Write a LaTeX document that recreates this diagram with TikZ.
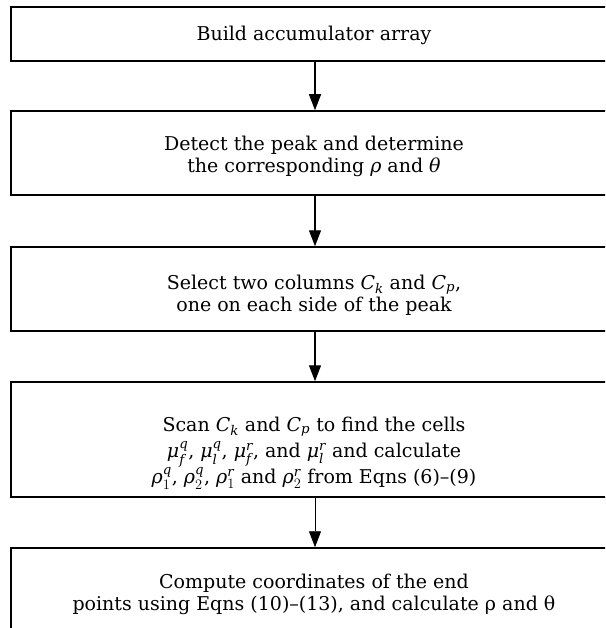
\documentclass[tikz,border=0pt]{standalone}
\usepackage{amsmath}
\usepackage{fontspec}
\setmainfont{DejaVu Serif}
\usetikzlibrary{arrows.meta}
% italic symbols taken from the text font, so that they scale inside sub/superscripts
\newcommand{\vi}[1]{\textit{#1}}

\begin{document}
\begin{tikzpicture}[x=1pt,y=-1pt,
  stepbox/.style={draw=black, line width=1.5pt, rectangle, minimum width=608pt, inner sep=0pt},
  steptext/.style={align=center, font=\fontsize{19}{22}\selectfont, inner sep=0pt},
  flow/.style={line width=1.3pt, -{Triangle[width=12pt,length=16pt]}},
  thinflow/.style={line width=0.9pt, -{Triangle[width=12pt,length=16pt]}}]
  \useasboundingbox (0,0) rectangle (605,628);
  \clip (0,0) rectangle (605,628);

  % process boxes
  \node[stepbox, minimum height=54pt]  (b1) at (315,34)    {};
  \node[stepbox, minimum height=84pt]  (b2) at (315,153)   {};
  \node[stepbox, minimum height=84pt]  (b3) at (315,289)   {};
  \node[stepbox, minimum height=115pt] (b4) at (315,439.5) {};
  \node[stepbox, minimum height=112pt] (b5) at (315,604)   {};

  % box texts
  \node[steptext] (t1) at (314,35)  {Build accumulator array};
  \node[steptext] (t2) at (314,156) {Detect the peak and determine\\the corresponding \vi{ρ} and \vi{θ}};
  \node[steptext] (t3) at (314,295) {Select two columns $\vi{C}_{\vi{k}}$ and $\vi{C}_{\vi{p}}$,\\one on each side of the peak};
  \node[steptext, font=\fontsize{19}{26}\selectfont] (t4) at (314,453) {Scan $\vi{C}_{\vi{k}}$ and $\vi{C}_{\vi{p}}$ to find the cells\\
    $\vi{μ}_{\vi{f}}^{\vi{q}}$, $\vi{μ}_{\vi{l}}^{\vi{q}}$, $\vi{μ}_{\vi{f}}^{\vi{r}}$, and $\vi{μ}_{\vi{l}}^{\vi{r}}$ and calculate\\
    $\vi{ρ}_1^{\vi{q}}$, $\vi{ρ}_2^{\vi{q}}$, $\vi{ρ}_1^{\vi{r}}$ and $\vi{ρ}_2^{\vi{r}}$ from Eqns (6)--(9)};
  \node[steptext] (t5) at (314,594) {Compute coordinates of the end\\
    points using Eqns (10)--(13), and calculate ρ and θ};

  % connectors
  \draw[flow] (b1.south) -- (b2.north);
  \draw[flow] (b2.south) -- (b3.north);
  \draw[flow] (b3.south) -- (b4.north);
  \draw[thinflow] (b4.south) -- (b5.north);
\end{tikzpicture}
\end{document}
